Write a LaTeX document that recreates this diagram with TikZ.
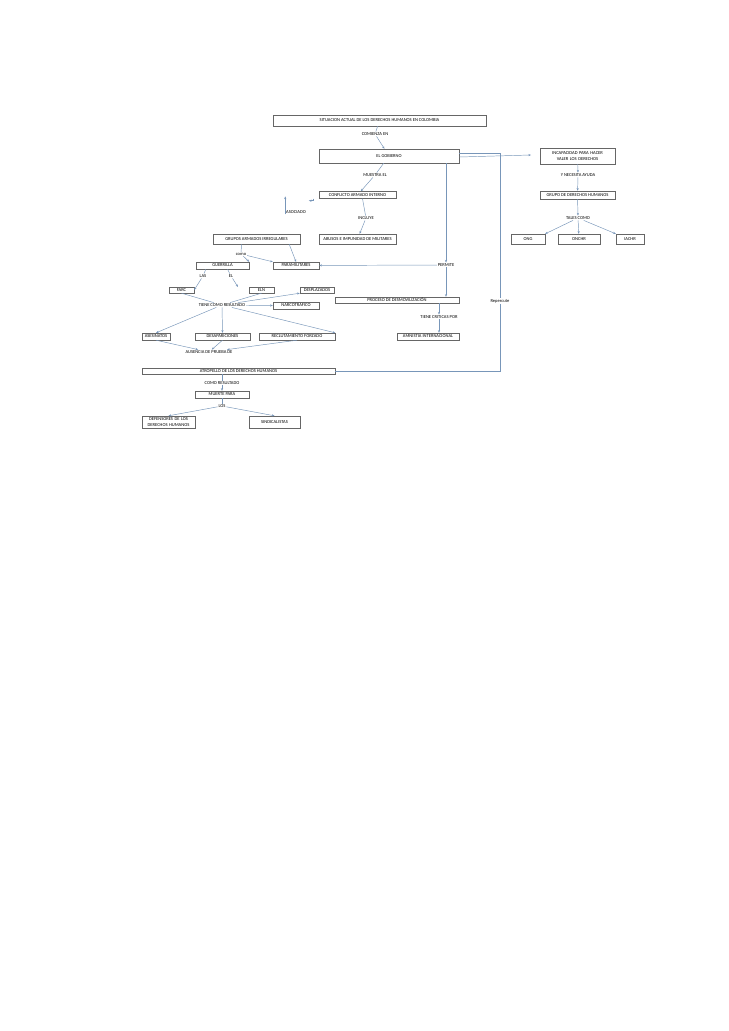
\documentclass[tikz,border=0pt]{standalone}
\usepackage{fontspec}
\setmainfont{Carlito}
\usetikzlibrary{arrows.meta,positioning}
\definecolor{linea}{RGB}{120,150,185}
\tikzset{
  caja/.style={draw=black!60,line width=0.3pt,inner sep=0.6pt,font=\fontsize{3.4}{4}\selectfont,align=center},
  etiqueta/.style={inner sep=0.5pt,font=\fontsize{3.4}{4}\selectfont},
  flecha/.style={draw=linea,line width=0.35pt,-{Stealth[length=2pt,width=1.6pt]}},
  linea/.style={draw=linea,line width=0.35pt},
}
\begin{document}
\begin{tikzpicture}[x=0.75pt,y=-0.75pt]
  \useasboundingbox (0,0) rectangle (728,1031);

  % Cajas
  \node[caja,minimum width=213*0.75pt,minimum height=11*0.75pt] (sit) at (379.5,120.5) {SITUACION ACTUAL DE LOS DERECHOS HUMANOS EN COLOMBIA};
  \node[caja,minimum width=140*0.75pt,minimum height=14*0.75pt] (gob) at (389,156) {EL GOBIERNO};
  \node[caja,minimum width=77*0.75pt,minimum height=7*0.75pt] (con) at (357.5,195) {CONFLICTO ARMADO INTERNO};
  \node[caja,minimum width=87*0.75pt,minimum height=10*0.75pt] (gru) at (256.5,239) {GRUPOS ARMADOS IRREGULARES};
  \node[caja,minimum width=77*0.75pt,minimum height=10*0.75pt] (abu) at (357.5,239) {ABUSOS E IMPUNIDAD DE MILITARES};
  \node[caja,minimum width=75*0.75pt,minimum height=16*0.75pt,text width=70*0.75pt] (inc) at (577.5,156) {INCAPACIDAD PARA HACER VALER LOS DERECHOS};
  \node[caja,minimum width=75*0.75pt,minimum height=8*0.75pt] (gdh) at (577.5,195) {GRUPO DE DERECHOS HUMANOS};
  \node[caja,minimum width=34*0.75pt,minimum height=10*0.75pt] (ong) at (528,239) {ONG};
  \node[caja,minimum width=42*0.75pt,minimum height=10*0.75pt] (onc) at (579,239) {ONCHR};
  \node[caja,minimum width=28*0.75pt,minimum height=10*0.75pt] (iac) at (630,239) {IACHR};
  \node[caja,minimum width=53*0.75pt,minimum height=7*0.75pt] (gue) at (222.5,265.5) {GUERRILLA};
  \node[caja,minimum width=46*0.75pt,minimum height=7*0.75pt] (par) at (296,265.5) {PARAMILITARES};
  \node[caja,minimum width=25*0.75pt,minimum height=6*0.75pt] (farc) at (181.5,290) {FARC};
  \node[caja,minimum width=25*0.75pt,minimum height=6*0.75pt] (eln) at (261.5,290) {ELN};
  \node[caja,minimum width=34*0.75pt,minimum height=6*0.75pt] (des) at (317,290) {DESPLAZADOS};
  \node[caja,minimum width=46*0.75pt,minimum height=7*0.75pt] (nar) at (296,305.5) {NARCOTRAFICO};
  \node[caja,minimum width=124*0.75pt,minimum height=6*0.75pt] (pro) at (397,300) {PROCESO DE DESMOVILIZACIÓN};
  \node[caja,minimum width=62*0.75pt,minimum height=7*0.75pt] (amn) at (428,336.5) {AMNISTIA INTERNACIONAL};
  \node[caja,minimum width=28*0.75pt,minimum height=7*0.75pt] (ase) at (156,336.5) {ASESINATOS};
  \node[caja,minimum width=55*0.75pt,minimum height=7*0.75pt] (dsp) at (222.5,336.5) {DESAPARICIONES};
  \node[caja,minimum width=76*0.75pt,minimum height=7*0.75pt] (rec) at (297,336.5) {RECLUTAMIENTO FORZADO};
  \node[caja,minimum width=193*0.75pt,minimum height=6*0.75pt] (atr) at (238.5,371) {ATROPELLO DE LOS DERECHOS HUMANOS};
  \node[caja,minimum width=54*0.75pt,minimum height=7*0.75pt] (mue) at (222,394.5) {MUERTE PARA};
  \node[caja,minimum width=53*0.75pt,minimum height=12*0.75pt,text width=50*0.75pt] (def) at (168.5,422) {DEFENSORES DE LOS DERECHOS HUMANOS};
  \node[caja,minimum width=51*0.75pt,minimum height=12*0.75pt] (sin) at (274.5,422) {SINDICALISTAS};

  % Etiquetas
  \node[etiqueta] (com) at (375,134) {COMIENZA EN};
  \node[etiqueta] (mue2) at (375,175) {MUESTRA EL};
  \node[etiqueta] (aso) at (296,212) {ASOCIADO};
  \node[etiqueta] (incl) at (366,218) {INCLUYE};
  \node[etiqueta] (nec) at (578,175) {Y NECESITA AYUDA};
  \node[etiqueta] (tal) at (578,218) {TALES COMO};
  \node[etiqueta] (como) at (241,254) {como};
  \node[etiqueta] (per) at (446,265) {PERMITE};
  \node[etiqueta] (las) at (203,276) {LAS};
  \node[etiqueta] (el) at (231,276) {EL};
  \node[etiqueta] (tie) at (222,305) {TIENE COMO RESULTADO};
  \node[etiqueta] (rep) at (500,301) {Repercute};
  \node[etiqueta] (cri) at (439,317) {TIENE CRITICAS POR};
  \node[etiqueta] (aus) at (209,352) {AUSENCIA DE PRUEBA DE};
  \node[etiqueta] (cres) at (222,383) {COMO RESULTADO};
  \node[etiqueta] (los) at (222,406) {LOS};

  % Conectores
  \draw[linea] (sit) -- (com);
  \draw[flecha] (com) -- (gob);
  \draw[linea] (gob) -- (mue2);
  \draw[flecha] (mue2) -- (con);
  \draw[flecha] ([xshift=-6*0.75pt]con.south west) |- ++(-4*0.75pt,-2*0.75pt);
  \draw[flecha] (aso.south west) -- ++(0,18*0.75pt);
  \draw[linea] (con.south) ++(5*0.75pt,0) -- (incl);
  \draw[flecha] (incl) -- (abu);
  \draw[flecha] ([yshift=-1*0.75pt]gob.east) -- (531,155);
  \draw[linea] ([yshift=3*0.75pt]gob.east) -| (rep.north);
  \draw[linea] (rep.south) |- (atr.east);
  \draw[flecha] (gob.south -| per) -- (per);
  \draw[flecha] (per) -- (pro.north -| per);
  \draw[flecha] (per) -- (par);
  \draw[flecha] (inc) -- (nec);
  \draw[flecha] (nec) -- (gdh);
  \draw[flecha] (gdh) -- (tal);
  \draw[flecha] (tal) -- (ong.north east);
  \draw[flecha] (tal) -- (onc);
  \draw[flecha] (tal) -- (iac.north west);
  \draw[linea] (gru.south) ++(-15*0.75pt,0) -- (como);
  \draw[flecha] (como) -- (gue.north east);
  \draw[flecha] (como) -- (par.north west);
  \draw[flecha] (gru.south east) ++(-11*0.75pt,0) -- (par.north);
  \draw[linea] (gue.south west) ++(10*0.75pt,0) -- (las);
  \draw[linea] (gue.south) ++(5*0.75pt,0) -- (el);
  \draw[flecha] (las) -- (farc.east);
  \draw[flecha] (el) -- (238,287);
  \draw[linea] (farc.south) -- (tie);
  \draw[linea] (eln.south) -- (tie);
  \draw[flecha] (tie) -- (des.south west);
  \draw[flecha] (tie) -- (nar.west);
  \draw[flecha] (tie) -- (ase.north);
  \draw[flecha] (tie) -- (dsp.north);
  \draw[flecha] (tie) -- (rec.north east);
  \draw[flecha] (pro.south -| cri) -- (cri);
  \draw[flecha] (cri) -- (amn.north -| cri);
  \draw[flecha] (ase.south) -- (aus);
  \draw[flecha] (dsp.south) -- (aus);
  \draw[flecha] (rec.south) -- (aus);
  \draw[linea] (atr.south -| cres) -- (cres);
  \draw[flecha] (cres) -- (mue);
  \draw[linea] (mue) -- (los);
  \draw[flecha] (los) -- (def.north);
  \draw[flecha] (los) -- (sin.north);
\end{tikzpicture}
\end{document}
